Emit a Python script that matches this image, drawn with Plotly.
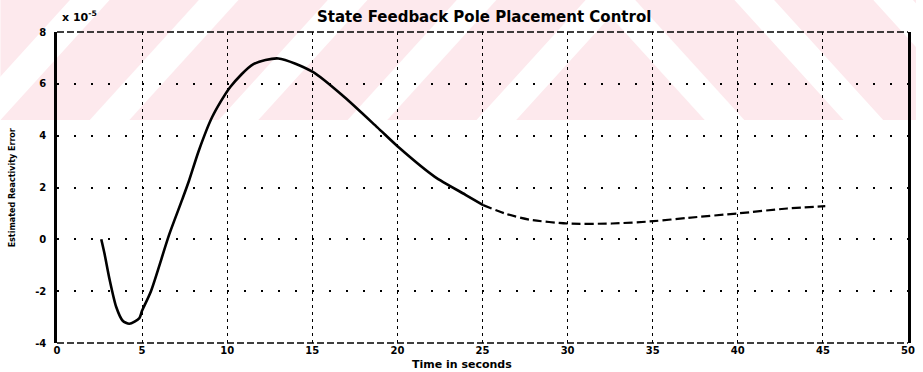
import plotly.graph_objects as go

# ---- data ----
t_solid = [2.6, 2.79, 3.09, 3.48, 3.86, 4.25, 4.84, 5.0, 5.52, 6.59, 7.36, 7.75, 8.33, 9.11, 10.18,
           11.54, 13.0, 15.03, 16.88, 18.82, 20.09, 22.2, 24.0, 25.04]
e_solid = [0.0, -0.55, -1.55, -2.61, -3.14, -3.26, -3.04, -2.75, -2.0, 0.18, 1.54, 2.25, 3.42, 4.71, 5.88,
           6.76, 6.98, 6.46, 5.49, 4.32, 3.54, 2.41, 1.72, 1.32]
t_dash = [25.04, 26.4, 27.76, 29.99, 32.6, 35.04, 37.08, 40.0, 42.9, 45.14]
e_dash = [1.32, 0.98, 0.76, 0.61, 0.61, 0.70, 0.83, 1.0, 1.19, 1.28]

x_ticks = [0, 5, 10, 15, 20, 25, 30, 35, 40, 45, 50]
y_ticks = [-4, -2, 0, 2, 4, 6, 8]
title_text = "State Feedback Pole Placement Control"
x_label = "Time in seconds"
y_label = "Estimated Reactivity Error"

W, H = 923, 372
L, R, T, B = 57, 8, 32, 29
pw, ph = W - L - R, H - T - B


def px(x):
    return (x - L) / pw


def py(y):
    return (H - B - y) / ph


font_b = "DejaVu Sans"
fig = go.Figure()

fig.add_trace(go.Scatter(x=t_solid, y=e_solid, mode="lines",
                         line=dict(color="black", width=2.6, shape="spline", smoothing=0.7),
                         hoverinfo="skip", showlegend=False))
fig.add_trace(go.Scatter(x=t_dash, y=e_dash, mode="lines",
                         line=dict(color="black", width=2.2, dash="9px,4px", shape="spline",
                                   smoothing=0.7),
                         hoverinfo="skip", showlegend=False))

shapes = []
# watermark: pink band at top with white diagonal stripes
pink = "#fde9ed"
shapes.append(dict(type="rect", xref="paper", yref="paper", x0=px(0), x1=px(W),
                   y0=py(120), y1=py(0), fillcolor=pink, line=dict(width=0), layer="below"))
d, w = 110, 40
for xb in [-40, 90, 220, 350, 480]:
    path = (f"M{px(xb)},{py(120)} L{px(xb + w)},{py(120)} "
            f"L{px(xb + w + d)},{py(0)} L{px(xb + d)},{py(0)} Z")
    shapes.append(dict(type="path", xref="paper", yref="paper", path=path,
                       fillcolor="white", line=dict(width=0), layer="below"))
for xt in [600, 740, 880]:
    path = (f"M{px(xt)},{py(0)} L{px(xt + w)},{py(0)} "
            f"L{px(xt + w + d)},{py(120)} L{px(xt + d)},{py(120)} Z")
    shapes.append(dict(type="path", xref="paper", yref="paper", path=path,
                       fillcolor="white", line=dict(width=0), layer="below"))

# top & bottom dashed frame lines
for yv in [0, 1]:
    shapes.append(dict(type="line", xref="paper", yref="paper", x0=0, x1=1, y0=yv, y1=yv,
                       line=dict(color="black", width=1.5, dash="7px,3px")))

fig.update_layout(
    width=W, height=H,
    margin=dict(l=L, r=R, t=T, b=B, pad=0),
    paper_bgcolor="white", plot_bgcolor="rgba(0,0,0,0)",
    shapes=shapes,
    xaxis=dict(range=[0, 50], tickvals=x_ticks, ticktext=[str(v) for v in x_ticks],
               showgrid=True, gridcolor="black", gridwidth=1.2, griddash="3px,4px",
               zeroline=False, showline=False, ticks="", ticklabelstandoff=0,
               tickfont=dict(family=font_b, size=10, color="black", weight="bold")),
    yaxis=dict(range=[-4, 8], tickvals=y_ticks, ticktext=[str(v) for v in y_ticks],
               showgrid=True, gridcolor="black", gridwidth=1.5, griddash="2px,15px",
               zeroline=False, showline=True, mirror=True, linecolor="black", linewidth=2.5,
               ticks="", ticklabelstandoff=6,
               tickfont=dict(family=font_b, size=10, color="black", weight="bold")),
    annotations=[
        dict(text="<b>" + title_text + "</b>", xref="paper", yref="paper",
             x=px(488), y=py(17), xanchor="center", yanchor="middle", showarrow=False,
             font=dict(family=font_b, size=15, color="black")),
        dict(text="<b>x 10<sup>-5</sup></b>", xref="paper", yref="paper",
             x=px(60), y=py(16), xanchor="left", yanchor="middle", showarrow=False,
             font=dict(family=font_b, size=11, color="black")),
        dict(text="<b>" + x_label + "</b>", xref="paper", yref="paper",
             x=px(465), y=py(364), xanchor="center", yanchor="middle", showarrow=False,
             font=dict(family=font_b, size=11, color="black")),
        dict(text="<b>" + y_label + "</b>", xref="paper", yref="paper",
             x=px(12), y=py(188), xanchor="center", yanchor="middle", showarrow=False,
             textangle=-90, font=dict(family=font_b, size=8, color="black")),
    ],
)

fig.write_html("out.html")
